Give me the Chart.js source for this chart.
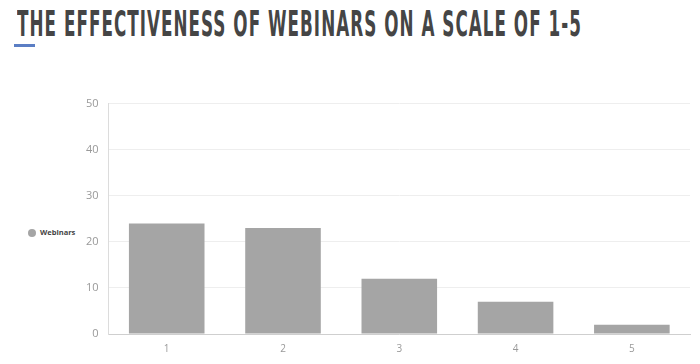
<!DOCTYPE html>
<html>
<head>
<meta charset="utf-8">
<script src="https://cdn.jsdelivr.net/npm/chart.js@4"></script>
<style>
	body { margin: 0; background: #fff; width: 700px; height: 364px; overflow: hidden; position: relative; }
	#title { position: absolute; left: 17px; top: 3px; font-family: "Liberation Sans Narrow", "DejaVu Sans Condensed", sans-serif; font-weight: bold; font-size: 36px; letter-spacing: 2px; color: #454545; transform-origin: left top; white-space: nowrap; }
	#bar { position: absolute; left: 14px; top: 44px; width: 21px; height: 3px; background: #5b7ec4; }
	#legend { position: absolute; left: 28px; top: 227px; font-family: "Open Sans", sans-serif; font-size: 7.5px; font-weight: bold; color: #444; }
	#legend span { display: inline-block; width: 8px; height: 8px; border-radius: 50%; background: #a5a5a5; vertical-align: middle; margin-right: 4px; }
	#wrap { position: absolute; left: 76px; top: 87px; width: 624px; height: 277px; }
</style>
</head>
<body>
<div id="title">THE EFFECTIVENESS OF WEBINARS ON A SCALE OF 1-5</div>
<div id="bar"></div>
<div id="legend"><span></span>Webinars</div>
<div id="wrap"><canvas id="myChart"></canvas></div>
<script>
	var categories = ['1', '2', '3', '4', '5'];
	var webinars = [24, 23, 12, 7, 2];
	var yTicks = [0, 10, 20, 30, 40, 50];

	// squeeze the title to the width it has in the picture
	var title = document.getElementById('title');
	title.style.transform = 'scaleX(' + (565 / title.offsetWidth) + ')';

	var ctx = document.getElementById('myChart').getContext('2d');
	var chart = new Chart(ctx, {
		type: 'bar',
		data: {
			labels: categories,
			datasets: [{
				label: 'Webinars',
				data: webinars,
				backgroundColor: '#a5a5a5',
				categoryPercentage: 0.65,
				barPercentage: 1
			}]
		},
		options: {
			responsive: true,
			maintainAspectRatio: false,
			animation: false,
			layout: { padding: { top: 7, right: 10, bottom: 0 } },
			plugins: { legend: { display: false }, tooltip: { enabled: false } },
			scales: {
				x: {
					grid: { display: false, drawTicks: false },
					border: { color: '#cfcfcf', width: 1 },
					ticks: { color: '#999', padding: 9, font: { family: 'Open Sans', size: 10 } }
				},
				y: {
					min: 0, max: 50,
					afterBuildTicks: function(scale) { scale.ticks = yTicks.map(function(v) { return { value: v }; }); },
					grid: { color: '#eeeeee', drawTicks: false },
					border: { color: '#dcdcdc', width: 1 },
					ticks: { color: '#999', padding: 10, font: { family: 'Open Sans', size: 11 } }
				}
			}
		}
	});
</script>
</body>
</html>
